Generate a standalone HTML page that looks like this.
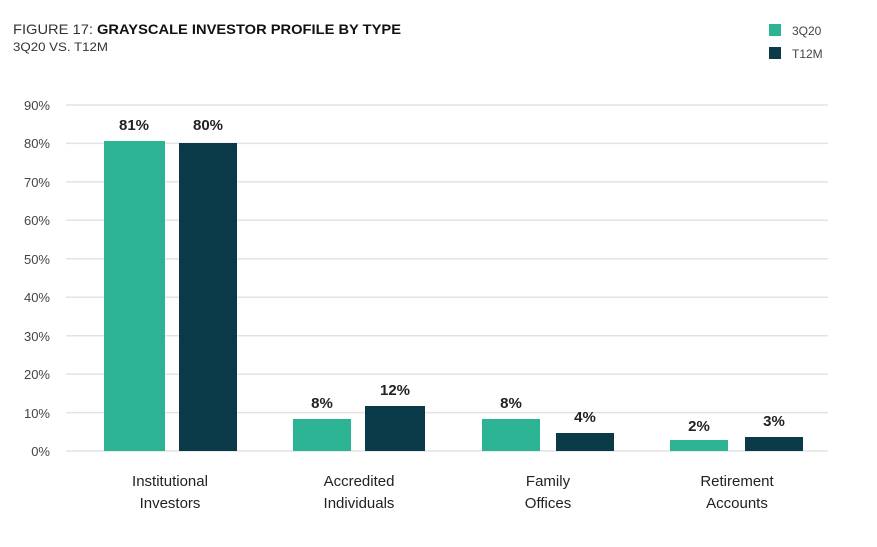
<!DOCTYPE html><html><head><style>body{margin:0;background:#fff}</style></head><body>
<svg width="877" height="542" xmlns="http://www.w3.org/2000/svg" font-family="Liberation Sans, sans-serif">
<text x="13" y="34" font-size="14" fill="#333" textLength="388" lengthAdjust="spacingAndGlyphs">FIGURE 17: <tspan font-weight="bold" fill="#111">GRAYSCALE INVESTOR PROFILE BY TYPE</tspan></text>
<text x="13" y="51" font-size="12" fill="#333" textLength="95" lengthAdjust="spacingAndGlyphs">3Q20 VS. T12M</text>
<rect x="769" y="24" width="12" height="12" fill="#2bb394"/><text x="792" y="35" font-size="12" fill="#444">3Q20</text>
<rect x="769" y="47" width="12" height="12" fill="#0a3a47"/><text x="792" y="58" font-size="12" fill="#444">T12M</text>
<g stroke="#e3e3e3" stroke-width="1.5">
<line x1="66" x2="828" y1="105" y2="105"/><line x1="66" x2="828" y1="143.4" y2="143.4"/><line x1="66" x2="828" y1="181.9" y2="181.9"/><line x1="66" x2="828" y1="220.3" y2="220.3"/><line x1="66" x2="828" y1="258.8" y2="258.8"/><line x1="66" x2="828" y1="297.2" y2="297.2"/><line x1="66" x2="828" y1="335.7" y2="335.7"/><line x1="66" x2="828" y1="374.1" y2="374.1"/><line x1="66" x2="828" y1="412.6" y2="412.6"/><line x1="66" x2="828" y1="451" y2="451"/></g>
<g font-size="13" fill="#444" text-anchor="end">
<text x="50" y="110">90%</text><text x="50" y="148">80%</text><text x="50" y="187">70%</text><text x="50" y="225">60%</text><text x="50" y="264">50%</text><text x="50" y="302">40%</text><text x="50" y="341">30%</text><text x="50" y="379">20%</text><text x="50" y="418">10%</text><text x="50" y="456">0%</text></g>
<g fill="#2bb394"><rect x="104" y="141" width="61" height="310"/><rect x="293" y="419" width="58" height="32"/><rect x="482" y="419" width="58" height="32"/><rect x="670" y="440" width="58" height="11"/></g>
<g fill="#0a3a47"><rect x="179" y="143" width="58" height="308"/><rect x="365" y="406" width="60" height="45"/><rect x="556" y="433" width="58" height="18"/><rect x="745" y="437" width="58" height="14"/></g>
<g font-size="15" font-weight="bold" fill="#222" text-anchor="middle">
<text x="134" y="130">81%</text><text x="208" y="130">80%</text><text x="322" y="408">8%</text><text x="395" y="395">12%</text><text x="511" y="408">8%</text><text x="585" y="422">4%</text><text x="699" y="431">2%</text><text x="774" y="426">3%</text></g>
<g font-size="15" fill="#222" text-anchor="middle">
<text x="170" y="486">Institutional</text><text x="170" y="508">Investors</text>
<text x="359" y="486">Accredited</text><text x="359" y="508">Individuals</text>
<text x="548" y="486">Family</text><text x="548" y="508">Offices</text>
<text x="737" y="486">Retirement</text><text x="737" y="508">Accounts</text></g>
</svg></body></html>
